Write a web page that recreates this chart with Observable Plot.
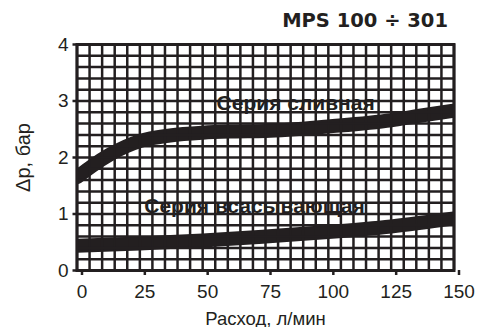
<!DOCTYPE html>
<html><head><meta charset="utf-8">
<script src="https://cdn.jsdelivr.net/npm/d3@7"></script>
<script src="https://cdn.jsdelivr.net/npm/@observablehq/plot@0.6"></script>
<style>
body{margin:0;background:#fff;}
#wrap{position:relative;width:493px;height:327px;}
#title{position:absolute;z-index:2;top:9px;right:45px;font:bold 19.5px "DejaVu Sans";color:#231f20;white-space:nowrap;line-height:24px;}
#wrap svg{position:absolute;left:0;top:0;z-index:1;}
svg [aria-label="x-axis label"] text{font-size:18.5px !important}
svg [aria-label="y-axis label"] text{font-size:20px !important}
</style></head><body><div id="wrap"><div id="title"></div></div>
<script>
const title = "MPS 100 ÷ 301";
const flowUpper = [0, 6, 13, 25, 37, 50, 62, 75, 100, 125, 135, 150];
const dpUpper = [1.65, 1.85, 2.05, 2.29, 2.39, 2.44, 2.46, 2.47, 2.55, 2.66, 2.73, 2.83];
const flowLower = [0, 25, 50, 75, 100, 125, 150];
const dpLower = [0.44, 0.48, 0.53, 0.6, 0.68, 0.78, 0.92];
const seriesLabels = ["Серия сливная", "Серия всасывающая"];
const labelFlow = [87, 70.6];
const labelDp = [2.96, 1.14];
const xTicks = [0, 25, 50, 75, 100, 125, 150];
const yTicks = [0, 1, 2, 3, 4];
const xLabel = "Расход, л/мин";
const yLabel = "Δp, бар";

const ink = "#231f20";
const upper = flowUpper.map((x, i) => ({x, y: dpUpper[i]}));
const lower = flowLower.map((x, i) => ({x, y: dpLower[i]}));
const labels = seriesLabels.map((t, i) => ({t, x: labelFlow[i], y: labelDp[i]}));

document.getElementById("title").textContent = title;

const chart = Plot.plot({
  width: 493, height: 327,
  marginTop: 44, marginBottom: 57, marginLeft: 76.5, marginRight: 39.5,
  x: {domain: [0, 150]},
  y: {domain: [0, 4]},
  style: {fontFamily: "'Liberation Sans', Arial, sans-serif", color: ink, background: "#fff", fontSize: "19px"},
  marks: [
    Plot.line(upper, {x: "x", y: "y", curve: "monotone-x", stroke: ink, strokeWidth: 14, clip: true}),
    Plot.line(lower, {x: "x", y: "y", curve: "monotone-x", stroke: ink, strokeWidth: 14, clip: true}),
    Plot.text(labels, {x: "x", y: "y", text: "t", fontWeight: "bold", fontSize: 21, fill: ink}),
    Plot.gridX(d3.range(0, 151, 5), {stroke: ink, strokeOpacity: 1, strokeWidth: 2.5}),
    Plot.gridY(d3.range(0, 21).map(i => i / 5), {stroke: ink, strokeOpacity: 1, strokeWidth: 2.5}),
    Plot.frame({stroke: ink, strokeWidth: 3}),
    Plot.axisX(xTicks, {tickSize: 5, tickPadding: 9, strokeWidth: 2.5, dx: 5, fontSize: 19, tickFormat: "d", label: xLabel, labelArrow: "none", labelAnchor: "center", labelOffset: 54}),
    Plot.axisY(yTicks, {tickSize: 4, tickPadding: 4.5, strokeWidth: 2.5, fontSize: 19, tickFormat: "d", label: yLabel, labelArrow: "none", labelAnchor: "center", labelOffset: 61})
  ]
});
document.getElementById("wrap").appendChild(chart);
</script></body></html>
